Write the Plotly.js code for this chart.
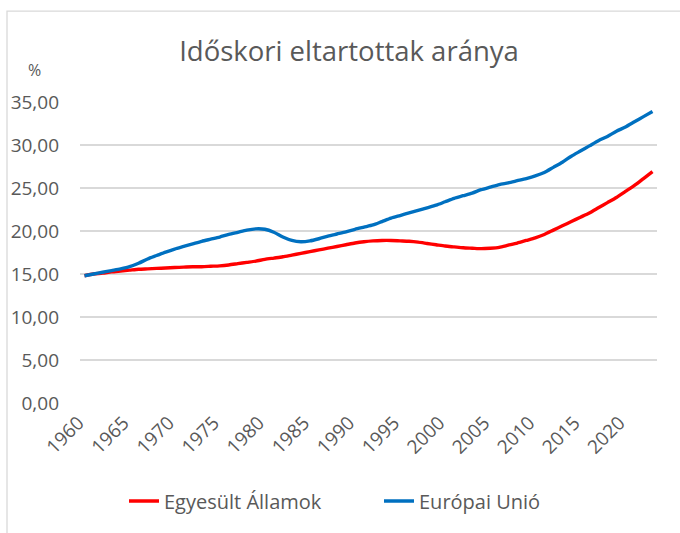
<!DOCTYPE html>
<html>
<head>
<meta charset="utf-8">
<script src="https://cdn.plot.ly/plotly-3.0.1.min.js"></script>
<style>
  html, body { margin: 0; padding: 0; background: #fff; }
  #chart { width: 680px; height: 533px; }
</style>
</head>
<body>
<div id="chart"></div>
<script>
const years = [];
for (let y = 1960; y <= 2023; y++) years.push(y);

const usValues = [
  14.8, 15.0, 15.1, 15.25, 15.35, 15.45, 15.55, 15.6, 15.65, 15.7,
  15.75, 15.8, 15.85, 15.85, 15.9, 15.95, 16.05, 16.2, 16.35, 16.5,
  16.7, 16.85, 17.0, 17.2, 17.4, 17.6, 17.8, 18.0, 18.2, 18.4,
  18.6, 18.75, 18.85, 18.9, 18.9, 18.85, 18.8, 18.7, 18.55, 18.4,
  18.25, 18.15, 18.05, 18.0, 17.95, 18.0, 18.1, 18.35, 18.6, 18.9,
  19.2, 19.6, 20.1, 20.6, 21.1, 21.6, 22.1, 22.7, 23.3, 23.9,
  24.6, 25.3, 26.1, 26.9
];

const euValues = [
  14.8, 15.0, 15.2, 15.4, 15.6, 15.85, 16.25, 16.75, 17.15, 17.55,
  17.9, 18.2, 18.5, 18.8, 19.05, 19.3, 19.6, 19.85, 20.1, 20.25,
  20.2, 19.85, 19.3, 18.9, 18.75, 18.85, 19.1, 19.4, 19.65, 19.9,
  20.2, 20.45, 20.7, 21.1, 21.5, 21.8, 22.1, 22.4, 22.7, 23.0,
  23.4, 23.8, 24.1, 24.4, 24.8, 25.1, 25.4, 25.6, 25.85, 26.1,
  26.4, 26.8, 27.4, 28.0, 28.7, 29.3, 29.9, 30.5, 31.0, 31.6,
  32.1, 32.7, 33.3, 33.9
];

const xTicks = [1960, 1965, 1970, 1975, 1980, 1985, 1990, 1995, 2000, 2005, 2010, 2015, 2020];
const yTicks = [0, 5, 10, 15, 20, 25, 30, 35];
const yTickText = ["0,00", "5,00", "10,00", "15,00", "20,00", "25,00", "30,00", "35,00"];

const FONT = '"Open Sans", "Liberation Sans", sans-serif';
const GRAY = '#595959';

const traces = [
  {
    x: years, y: usValues, name: 'Egyesült Államok', type: 'scatter', mode: 'lines',
    line: { color: '#FF0000', width: 3.4, shape: 'spline', smoothing: 0.7 }
  },
  {
    x: years, y: euValues, name: 'Európai Unió', type: 'scatter', mode: 'lines',
    line: { color: '#0070C0', width: 3.4, shape: 'spline', smoothing: 0.7 }
  }
];

const L = 80, R = 23, T = 101.6, B = 129.7;
const plotW = 680 - L - R, plotH = 533 - T - B;

const layout = {
  width: 680, height: 533,
  margin: { l: L, r: R, t: T, b: B, pad: 0 },
  paper_bgcolor: '#fff', plot_bgcolor: '#fff',
  font: { family: FONT, color: GRAY, size: 19 },
  title: {
    text: 'Időskori eltartottak aránya',
    font: { family: FONT, size: 27.5, color: GRAY },
    x: (349 - L) / plotW, xanchor: 'center', xref: 'paper',
    y: 1 - 51 / 533, yanchor: 'middle', yref: 'container'
  },
  xaxis: {
    range: [1959.5, 2023.5],
    tickmode: 'array', tickvals: xTicks, ticktext: xTicks.map(String),
    tickangle: -45, showgrid: false, zeroline: false, showline: false,
    ticks: '', ticklabelstandoff: 4, ticklabelshift: -6,
    tickfont: { family: FONT, size: 19, color: GRAY },
    fixedrange: true
  },
  yaxis: {
    range: [0, 35],
    tickmode: 'array', tickvals: yTicks, ticktext: yTickText,
    showgrid: true, gridcolor: '#D9D9D9', gridwidth: 1.3,
    zeroline: false, showline: false, ticks: '',
    ticklabelstandoff: 20,
    tickfont: { family: FONT, size: 19, color: GRAY },
    fixedrange: true
  },
  showlegend: true,
  legend: {
    orientation: 'h', x: (124 - L) / plotW, xanchor: 'left', xref: 'paper',
    y: 1 - 501 / 533, yanchor: 'middle', yref: 'container',
    font: { family: FONT, size: 20, color: GRAY },
    entrywidth: 258 - 48, entrywidthmode: 'pixels',
    tracegroupgap: 0
  },
  annotations: [
    {
      text: '%', xref: 'paper', yref: 'paper',
      x: (34 - L) / plotW, y: (533 - B - 70) / plotH,
      xanchor: 'center', yanchor: 'middle', showarrow: false,
      font: { family: FONT, size: 16, color: GRAY }
    }
  ],
  shapes: [
    {
      type: 'rect', xref: 'paper', yref: 'paper', layer: 'below',
      x0: (7 - L) / plotW, x1: (700 - L) / plotW,
      y0: (533 - B - 560) / plotH, y1: (533 - B - 10.5) / plotH,
      line: { color: '#D9D9D9', width: 1.3 }, fillcolor: 'rgba(0,0,0,0)'
    }
  ]
};

Plotly.newPlot('chart', traces, layout, { displayModeBar: false, staticPlot: true });
</script>
</body>
</html>
